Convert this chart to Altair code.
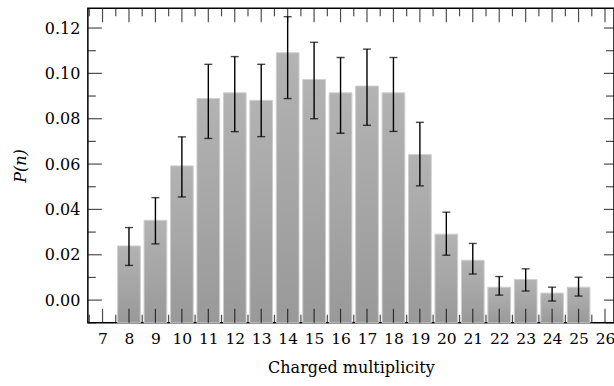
import altair as alt
import pandas as pd

mult = [8, 9, 10, 11, 12, 13, 14, 15, 16, 17, 18, 19, 20, 21, 22, 23, 24, 25]
prob = [0.0239, 0.0352, 0.0592, 0.0889, 0.0914, 0.0881, 0.1091, 0.0973, 0.0914,
        0.0944, 0.0914, 0.0642, 0.0291, 0.0176, 0.0057, 0.0091, 0.0031, 0.0057]
err_hi = [0.0320, 0.0452, 0.0720, 0.1040, 0.1074, 0.1040, 0.1250, 0.1137, 0.1070,
          0.1107, 0.1070, 0.0784, 0.0388, 0.0250, 0.0104, 0.0138, 0.0057, 0.0101]
err_lo = [0.0153, 0.0248, 0.0455, 0.0713, 0.0743, 0.0721, 0.0889, 0.0800, 0.0736,
          0.0771, 0.0744, 0.0504, 0.0198, 0.0115, 0.0022, 0.0040, -0.0004, 0.0018]

x_ticks = list(range(7, 27))
x_minor = [v + 0.5 for v in range(6, 26)]
y_ticks = [0.0, 0.02, 0.04, 0.06, 0.08, 0.10, 0.12]
y_minor = [-0.01, 0.01, 0.03, 0.05, 0.07, 0.09, 0.11]

XMIN, XMAX = 6.445, 26.34
YMIN, YMAX = -0.01, 0.1287
FONT = "DejaVu Serif"

df = pd.DataFrame({"n": mult, "p": prob, "hi": err_hi, "lo": err_lo})
df["base"] = YMIN

xs = alt.Scale(domain=[XMIN, XMAX], nice=False, zero=False)
ys = alt.Scale(domain=[YMIN, YMAX], nice=False, zero=False)

common = dict(domain=False, ticks=False, grid=False,
              labelFont=FONT, labelColor="black",
              titleFont=FONT, titleFontSize=16, titleFontWeight="normal",
              titleColor="black")
xaxis = alt.Axis(values=x_ticks, title="Charged multiplicity", format="d",
                 labelFontSize=15.5, labelPadding=9, titlePadding=12, **common)
yaxis = alt.Axis(values=y_ticks, title="P(n)", format=".2f", labelPadding=8,
                 labelFontSize=16, titleFontStyle="italic", titlePadding=16, **common)

grad = alt.Gradient(gradient="linear", x1=0, y1=0, x2=0, y2=1,
                    stops=[alt.GradientStop(color="#b3b3b3", offset=0),
                           alt.GradientStop(color="#999999", offset=1)])

base = alt.Chart(df)

bars = base.transform_calculate(
    xl="datum.n - 0.43", xr="datum.n + 0.43"
).mark_rect(fill=grad, stroke="#cfcfcf", strokeWidth=1).encode(
    x=alt.X("xl:Q", scale=xs, axis=xaxis),
    x2="xr:Q",
    y=alt.Y("base:Q", scale=ys, axis=yaxis),
    y2="p:Q",
)

err = base.mark_rule(color="black", strokeWidth=1.4).encode(
    x=alt.X("n:Q", scale=xs, axis=xaxis), y=alt.Y("lo:Q", scale=ys, axis=yaxis), y2="hi:Q")
cap_hi = base.mark_tick(color="black", orient="horizontal", size=8, thickness=1.4).encode(
    x=alt.X("n:Q", scale=xs, axis=xaxis), y=alt.Y("hi:Q", scale=ys, axis=yaxis))
cap_lo = base.mark_tick(color="black", orient="horizontal", size=8, thickness=1.4).encode(
    x=alt.X("n:Q", scale=xs, axis=xaxis), y=alt.Y("lo:Q", scale=ys, axis=yaxis))

def xtick_layer(vals, size, at, off):
    d = pd.DataFrame({"t": vals})
    return alt.Chart(d).mark_tick(color="black", orient="vertical", size=size,
                                  thickness=1.2, yOffset=off).encode(
        x=alt.X("t:Q", scale=xs, axis=xaxis), y=alt.datum(at, scale=ys, axis=yaxis))

def ytick_layer(vals, size, at, off):
    d = pd.DataFrame({"t": vals})
    return alt.Chart(d).mark_tick(color="black", orient="horizontal", size=size,
                                  thickness=1.2, xOffset=off).encode(
        y=alt.Y("t:Q", scale=ys, axis=yaxis), x=alt.datum(at, scale=xs, axis=xaxis))

ticks = [
    xtick_layer(x_ticks, 14, YMIN, -7),
    xtick_layer(x_minor, 8, YMIN, -4),
    xtick_layer(x_ticks, 14, YMAX, 7),
    xtick_layer(x_minor, 8, YMAX, 4),
    ytick_layer(y_ticks, 14, XMIN, 7),
    ytick_layer(y_minor, 8, XMIN, 4),
    ytick_layer(y_ticks, 10, XMAX, -5),
    ytick_layer(y_minor, 8, XMAX, -4),
]

chart = alt.layer(bars, err, cap_hi, cap_lo, *ticks).properties(
    width=527, height=315,
    background="white",
    autosize=alt.AutoSizeParams(type="none"),
    padding={"left": 88, "top": 8, "right": 0, "bottom": 63},
).configure_view(stroke="black", strokeWidth=1.5).configure_axis(
    labelFont=FONT, titleFont=FONT, titleFontSize=16,
)

chart.save("out.html", embed_options={"renderer": "svg", "actions": False})
